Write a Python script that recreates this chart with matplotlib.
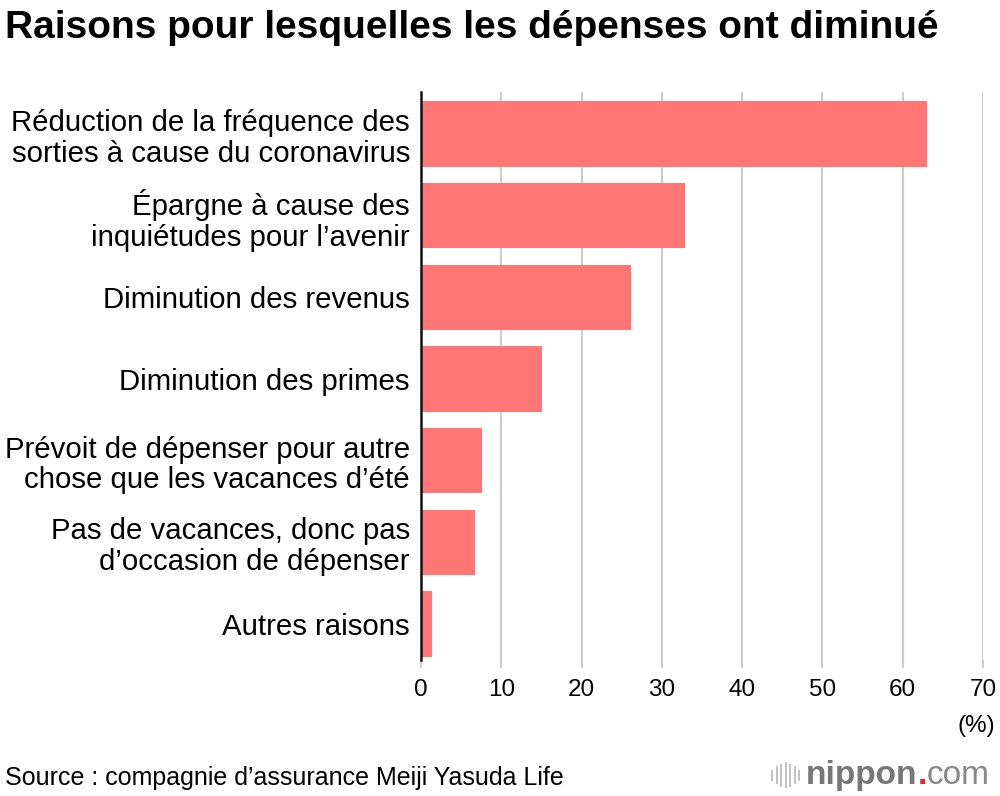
import matplotlib.pyplot as plt

plt.rcParams['font.family'] = ['Liberation Sans', 'DejaVu Sans']

# données
raisons = [
    "Réduction de la fréquence des\nsorties à cause du coronavirus",
    "Épargne à cause des\ninquiétudes pour l’avenir",
    "Diminution des revenus",
    "Diminution des primes",
    "Prévoit de dépenser pour autre\nchose que les vacances d’été",
    "Pas de vacances, donc pas\nd’occasion de dépenser",
    "Autres raisons",
]
valeurs = [63.0, 32.9, 26.2, 15.1, 7.6, 6.7, 1.4]
ticks_x = [0, 10, 20, 30, 40, 50, 60, 70]

fig = plt.figure(figsize=(10, 7.96), dpi=100)
ax = fig.add_axes([0.421, 0.171, 0.562, 0.713])

pos = list(range(len(raisons)))
ax.barh(pos, valeurs, height=0.8, color='#FF7675', zorder=2)

ax.set_xlim(0, 70)
ax.set_ylim(6.44, -0.51)
ax.set_yticks(pos)
ax.set_yticklabels(raisons, fontsize=21.2, linespacing=1.13)
ax.set_xticks(ticks_x)
ax.set_xticklabels([str(t) for t in ticks_x], fontsize=17.5)
ax.tick_params(axis='y', length=0, pad=8)
ax.tick_params(axis='x', length=6, width=1.5, color='#cccccc', pad=8)

ax.grid(axis='x', color='#cccccc', linewidth=1.5, zorder=0)
for s in ['top', 'right', 'bottom']:
    ax.spines[s].set_visible(False)
ax.spines['left'].set_linewidth(1.8)
ax.spines['left'].set_color('#111111')
ax.spines['left'].set_zorder(3)

fig.text(0.005, 0.965, "Raisons pour lesquelles les dépenses ont diminué",
         fontsize=28, fontweight='bold', va='center', ha='left')
fig.text(0.995, 0.088, "(%)", fontsize=17.5, ha='right', va='center')
fig.text(0.005, 0.022, "Source : compagnie d’assurance Meiji Yasuda Life",
         fontsize=18, ha='left', va='center')

# logo nippon.com
for i, h in enumerate([0.012, 0.02, 0.026, 0.03, 0.026, 0.02, 0.012]):
    xx = 0.772 + i * 0.0045
    fig.add_artist(plt.Line2D([xx, xx], [0.026 - h / 2, 0.026 + h / 2],
                              color='#bbbbbb', linewidth=1.3))
t1 = fig.text(0.806, 0.026, "nippon", fontsize=24, fontweight='bold',
              color='#777777', ha='left', va='center')
fig.canvas.draw()
bb = t1.get_window_extent().transformed(fig.transFigure.inverted())
t2 = fig.text(bb.x1, 0.026, ".", fontsize=24, fontweight='bold',
              color='#e8282b', ha='left', va='center')
bb2 = t2.get_window_extent().transformed(fig.transFigure.inverted())
fig.text(bb2.x1, 0.026, "com", fontsize=24, color='#888888',
         ha='left', va='center')

fig.savefig('out.png', dpi=100)
